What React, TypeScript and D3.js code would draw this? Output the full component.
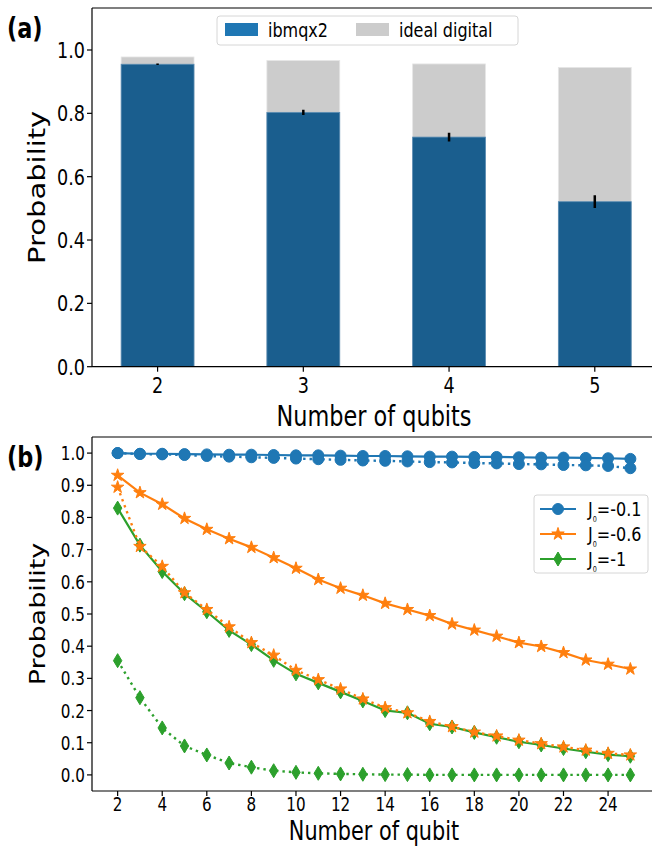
import React from "react";
import * as d3 from "d3";

// Panel (a): success probability per number of qubits
const qubitsA = [2, 3, 4, 5];
const idealDigital = [0.978, 0.967, 0.956, 0.945];
const ibmqx2 = [0.955, 0.803, 0.725, 0.521];
const ibmqx2Err = [0.002, 0.008, 0.014, 0.02];
const yTicksA = [0, 0.2, 0.4, 0.6, 0.8, 1.0];

// Panel (b): probability vs number of qubit for three couplings
const qubitsB = [2, 3, 4, 5, 6, 7, 8, 9, 10, 11, 12, 13, 14, 15, 16, 17, 18, 19, 20, 21, 22, 23, 24, 25];
const j01Solid = [1.0, 0.998, 0.998, 0.997, 0.996, 0.995, 0.995, 0.994, 0.993, 0.993, 0.992, 0.991, 0.991, 0.99, 0.989, 0.989, 0.988, 0.988, 0.987, 0.986, 0.986, 0.985, 0.984, 0.982];
const j01Dotted = [1.0, 0.997, 0.996, 0.994, 0.991, 0.989, 0.987, 0.985, 0.983, 0.981, 0.979, 0.977, 0.976, 0.974, 0.972, 0.971, 0.969, 0.968, 0.966, 0.965, 0.963, 0.962, 0.96, 0.953];
const j06Solid = [0.931, 0.877, 0.841, 0.797, 0.763, 0.734, 0.707, 0.675, 0.642, 0.607, 0.58, 0.558, 0.533, 0.514, 0.495, 0.469, 0.45, 0.431, 0.411, 0.399, 0.38, 0.357, 0.344, 0.329];
const j06Dotted = [0.894, 0.71, 0.648, 0.566, 0.514, 0.46, 0.411, 0.372, 0.325, 0.296, 0.267, 0.236, 0.209, 0.193, 0.166, 0.15, 0.133, 0.121, 0.108, 0.097, 0.087, 0.077, 0.067, 0.062];
const j1Solid = [0.829, 0.714, 0.632, 0.563, 0.507, 0.449, 0.405, 0.356, 0.314, 0.286, 0.258, 0.23, 0.2, 0.193, 0.159, 0.149, 0.132, 0.117, 0.103, 0.093, 0.082, 0.072, 0.063, 0.058];
const j1Dotted = [0.355, 0.24, 0.146, 0.09, 0.062, 0.037, 0.024, 0.013, 0.008, 0.005, 0.003, 0.002, 0.001, 0.001, 0, 0, 0, 0, 0, 0, 0, 0, 0, 0];
const yTicksB = [0, 0.1, 0.2, 0.3, 0.4, 0.5, 0.6, 0.7, 0.8, 0.9, 1.0];
const xTicksB = [2, 4, 6, 8, 10, 12, 14, 16, 18, 20, 22, 24];
const legendB = ["-0.1", "-0.6", "-1"];

const FONT = "DejaVu Sans";
const SX = 0.8; // glyphs are drawn narrower than tall
const BLUE = "#1f77b4";
const ORANGE = "#ff7f0e";
const GREEN = "#2ca02c";

function T(props: { x: number; y: number; size: number; anchor?: string; weight?: string; rotate?: number; children: React.ReactNode }) {
  const { x, y, size, anchor = "start", weight = "normal", rotate = 0, children } = props;
  const tf = rotate ? `translate(${x},${y}) rotate(${rotate}) scale(1,${SX})` : `translate(${x},${y}) scale(${SX},1)`;
  return (
    <text transform={tf} fontFamily={FONT} fontSize={size} fontWeight={weight} textAnchor={anchor} fill="#000">
      {children}
    </text>
  );
}

function markerPath(kind: string): string {
  if (kind === "circle") return d3.symbol(d3.symbolCircle, 95)()!;
  if (kind === "star") return d3.symbol(d3.symbolStar, 48)()!;
  // thin diamond
  return "M0,-7L4.2,0L0,7L-4.2,0Z";
}

export default function App() {
  // ---------- panel (a) ----------
  const aL = 92, aR = 656, aT = 8, aB = 366.7;
  const xA = d3.scaleLinear().domain([1.55, 5.42]).range([aL, aR]);
  const yA = d3.scaleLinear().domain([0, 1.1326]).range([aB, aT]);
  const barW = 0.5;

  // ---------- panel (b) ----------
  const bL = 92, bR = 656, bT = 437, bB = 791;
  const xB = d3.scaleLinear().domain([0.85, 26.15]).range([bL, bR]);
  const yB = d3.scaleLinear().domain([-0.05, 1.05]).range([bB, bT]);
  const line = d3
    .line<number>()
    .x((_, i) => xB(qubitsB[i]))
    .y((d) => yB(d));

  const seriesB = [
    { vals: j01Solid, color: BLUE, marker: "circle", dotted: false },
    { vals: j06Solid, color: ORANGE, marker: "star", dotted: false },
    { vals: j1Solid, color: GREEN, marker: "diamond", dotted: false },
    { vals: j01Dotted, color: BLUE, marker: "circle", dotted: true },
    { vals: j06Dotted, color: ORANGE, marker: "star", dotted: true },
    { vals: j1Dotted, color: GREEN, marker: "diamond", dotted: true },
  ];

  return (
    <svg width={652} height={846} style={{ position: "absolute", left: 0, top: 0, background: "#fff" }}>
      <rect width={652} height={846} fill="#fff" />
      <defs>
        <clipPath id="clipA">
          <rect x={aL} y={aT} width={aR - aL} height={aB - aT} />
        </clipPath>
        <clipPath id="clipB">
          <rect x={bL} y={bT} width={bR - bL} height={bB - bT} />
        </clipPath>
      </defs>

      {/* ===== (a) bars ===== */}
      <g clipPath="url(#clipA)">
        {qubitsA.map((q, i) => (
          <rect
            key={"g" + q}
            x={xA(q - barW / 2)}
            y={yA(idealDigital[i])}
            width={xA(q + barW / 2) - xA(q - barW / 2)}
            height={yA(0) - yA(idealDigital[i])}
            fill="#cccccc"
            stroke="#e6e6e6"
            strokeWidth={0.8}
          />
        ))}
        {qubitsA.map((q, i) => (
          <rect
            key={"b" + q}
            x={xA(q - barW / 2)}
            y={yA(ibmqx2[i])}
            width={xA(q + barW / 2) - xA(q - barW / 2)}
            height={yA(0) - yA(ibmqx2[i])}
            fill="#1a5e8e"
            stroke="#5b8db3"
            strokeWidth={0.8}
          />
        ))}
        {qubitsA.map((q, i) => (
          <line
            key={"e" + q}
            x1={xA(q)}
            x2={xA(q)}
            y1={yA(ibmqx2[i] - ibmqx2Err[i])}
            y2={yA(ibmqx2[i] + ibmqx2Err[i])}
            stroke="#000"
            strokeWidth={2.5}
          />
        ))}
      </g>
      {/* spines (a) */}
      <line x1={aL} x2={aL} y1={aT} y2={aB} stroke="#000" strokeWidth={1.2} />
      <line x1={aL} x2={652} y1={aB} y2={aB} stroke="#000" strokeWidth={1.2} />
      <line x1={aL} x2={652} y1={aT} y2={aT} stroke="#000" strokeWidth={1.2} />
      {yTicksA.map((t) => (
        <g key={"ya" + t}>
          <line x1={aL - 5} x2={aL} y1={yA(t)} y2={yA(t)} stroke="#000" strokeWidth={1.2} />
          <T x={aL - 7} y={yA(t) + 8} size={22} anchor="end">
            {t.toFixed(1)}
          </T>
        </g>
      ))}
      {qubitsA.map((q) => (
        <g key={"xa" + q}>
          <line x1={xA(q)} x2={xA(q)} y1={aB} y2={aB + 5} stroke="#000" strokeWidth={1.2} />
          <T x={xA(q)} y={393} size={22} anchor="middle">
            {q}
          </T>
        </g>
      ))}
      <T x={(aL + aR) / 2} y={426} size={28} anchor="middle">
        Number of qubits
      </T>
      <T x={45} y={(aT + aB) / 2} size={29} anchor="middle" rotate={-90}>
        Probability
      </T>
      <T x={7} y={38} size={28} weight="bold">
        (a)
      </T>
      {/* legend (a) */}
      <g>
        <rect x={217} y={16} width={301} height={29} rx={3} fill="#fff" fillOpacity={0.8} stroke="#d6d6d6" strokeWidth={1} />
        <rect x={225} y={23} width={33} height={13} fill={BLUE} />
        <T x={268} y={37} size={20}>
          ibmqx2
        </T>
        <rect x={356} y={23} width={33} height={13} fill="#cccccc" />
        <T x={399} y={37} size={20}>
          ideal digital
        </T>
      </g>

      {/* ===== (b) lines ===== */}
      <g clipPath="url(#clipB)">
        {seriesB.map((s, k) => (
          <g key={"s" + k}>
            <path
              d={line(s.vals)!}
              fill="none"
              stroke={s.color}
              strokeWidth={s.dotted ? 2.4 : 2.2}
              strokeDasharray={s.dotted ? "2.4,4" : undefined}
            />
            {s.vals.map((v, i) => (
              <path
                key={i}
                d={markerPath(s.marker)}
                transform={`translate(${xB(qubitsB[i])},${yB(v)})`}
                fill={s.color}
                stroke={s.color}
                strokeWidth={1}
              />
            ))}
          </g>
        ))}
      </g>
      {/* spines (b) */}
      <line x1={bL} x2={bL} y1={bT} y2={bB} stroke="#000" strokeWidth={1.2} />
      <line x1={bL} x2={652} y1={bB} y2={bB} stroke="#000" strokeWidth={1.2} />
      <line x1={bL} x2={652} y1={bT} y2={bT} stroke="#000" strokeWidth={1.2} />
      {yTicksB.map((t) => (
        <g key={"yb" + t}>
          <line x1={bL - 5} x2={bL} y1={yB(t)} y2={yB(t)} stroke="#000" strokeWidth={1.2} />
          <T x={bL - 7} y={yB(t) + 7} size={19} anchor="end">
            {t.toFixed(1)}
          </T>
        </g>
      ))}
      {xTicksB.map((q) => (
        <g key={"xb" + q}>
          <line x1={xB(q)} x2={xB(q)} y1={bB} y2={bB + 5} stroke="#000" strokeWidth={1.2} />
          <T x={xB(q)} y={811} size={19} anchor="middle">
            {q}
          </T>
        </g>
      ))}
      <T x={(bL + bR) / 2} y={840} size={26} anchor="middle">
        Number of qubit
      </T>
      <T x={45} y={(bT + bB) / 2} size={27} anchor="middle" rotate={-90}>
        Probability
      </T>
      <T x={7} y={467} size={28} weight="bold">
        (b)
      </T>
      {/* legend (b) */}
      <g>
        <rect x={534} y={495} width={114} height={78} rx={3} fill="#fff" fillOpacity={0.8} stroke="#d6d6d6" strokeWidth={1} />
        {seriesB.slice(0, 3).map((s, k) => {
          const ly = 509 + k * 25;
          return (
            <g key={"lg" + k}>
              <line x1={540} x2={576} y1={ly} y2={ly} stroke={s.color} strokeWidth={2.2} />
              <path d={markerPath(s.marker)} transform={`translate(558,${ly})`} fill={s.color} stroke={s.color} strokeWidth={1} />
              <T x={588} y={ly + 7} size={20}>
                J<tspan fontSize={8} dy={6}>0</tspan>
                <tspan dy={-6}>={legendB[k]}</tspan>
              </T>
            </g>
          );
        })}
      </g>
    </svg>
  );
}
